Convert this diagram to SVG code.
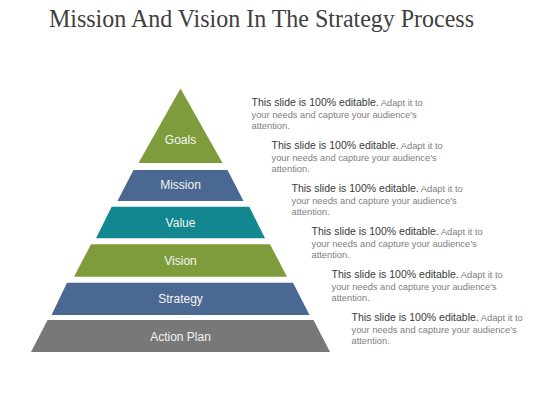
<svg xmlns="http://www.w3.org/2000/svg" width="560" height="420" viewBox="0 0 560 420">
<style>
.lbl{font-family:"Liberation Sans",Arial,sans-serif;font-size:12px;fill:#f4f4f4;text-anchor:middle}
.desc{font-family:"Liberation Sans",Arial,sans-serif;font-size:9.3px;fill:#808080}
.desc .b{font-size:10.5px;fill:#3a3a3a}
.green{fill:#7f9c3d}
.blue{fill:#4b6892}
.teal{fill:#13878f}
.gray{fill:#787878}
</style>
<rect width="560" height="420" fill="#ffffff"/>
<text x="49" y="27.3" font-family="'Liberation Serif','Times New Roman',serif" font-size="24.5" fill="#404040" textLength="425" lengthAdjust="spacingAndGlyphs">Mission And Vision In The Strategy Process</text>
<g id="goals">
<polygon class="green" points="180.5,88.5 222.5,163 138.5,163"/>
<text class="lbl" x="180.5" y="144">Goals</text>
</g>
<g id="mission">
<polygon class="blue" points="133.5,170 227.5,170 243.5,201 117.5,201"/>
<text class="lbl" x="180.5" y="189.3">Mission</text>
</g>
<g id="value">
<polygon class="teal" points="111.7,206.7 249.3,206.7 265,238.3 96,238.3"/>
<text class="lbl" x="180.5" y="226.8">Value</text>
</g>
<g id="vision">
<polygon class="green" points="91,244.3 270,244.3 287,276.7 74,276.7"/>
<text class="lbl" x="180.5" y="264.8">Vision</text>
</g>
<g id="strategy">
<polygon class="blue" points="67,282.7 293,282.7 309.5,315 51.5,315"/>
<text class="lbl" x="180.5" y="303">Strategy</text>
</g>
<g id="action-plan">
<polygon class="gray" points="47.5,320 313.5,320 330,352 31,352"/>
<text class="lbl" x="180.5" y="340.5">Action Plan</text>
</g>
<g id="connectors"></g>
<g id="desc1" class="desc">
<text x="251.5" y="106"><tspan class="b">This slide is 100% editable.</tspan> Adapt it to</text>
<text x="251.5" y="117.5">your needs and capture your audience's</text>
<text x="251.5" y="128.5">attention.</text>
</g>
<g id="desc2" class="desc">
<text x="271.5" y="149"><tspan class="b">This slide is 100% editable.</tspan> Adapt it to</text>
<text x="271.5" y="160.5">your needs and capture your audience's</text>
<text x="271.5" y="171.5">attention.</text>
</g>
<g id="desc3" class="desc">
<text x="291.5" y="192"><tspan class="b">This slide is 100% editable.</tspan> Adapt it to</text>
<text x="291.5" y="203.5">your needs and capture your audience's</text>
<text x="291.5" y="214.5">attention.</text>
</g>
<g id="desc4" class="desc">
<text x="311.5" y="235"><tspan class="b">This slide is 100% editable.</tspan> Adapt it to</text>
<text x="311.5" y="246.5">your needs and capture your audience's</text>
<text x="311.5" y="257.5">attention.</text>
</g>
<g id="desc5" class="desc">
<text x="331.5" y="278"><tspan class="b">This slide is 100% editable.</tspan> Adapt it to</text>
<text x="331.5" y="289.5">your needs and capture your audience's</text>
<text x="331.5" y="300.5">attention.</text>
</g>
<g id="desc6" class="desc">
<text x="351.5" y="321"><tspan class="b">This slide is 100% editable.</tspan> Adapt it to</text>
<text x="351.5" y="332.5">your needs and capture your audience's</text>
<text x="351.5" y="343.5">attention.</text>
</g>
</svg>
